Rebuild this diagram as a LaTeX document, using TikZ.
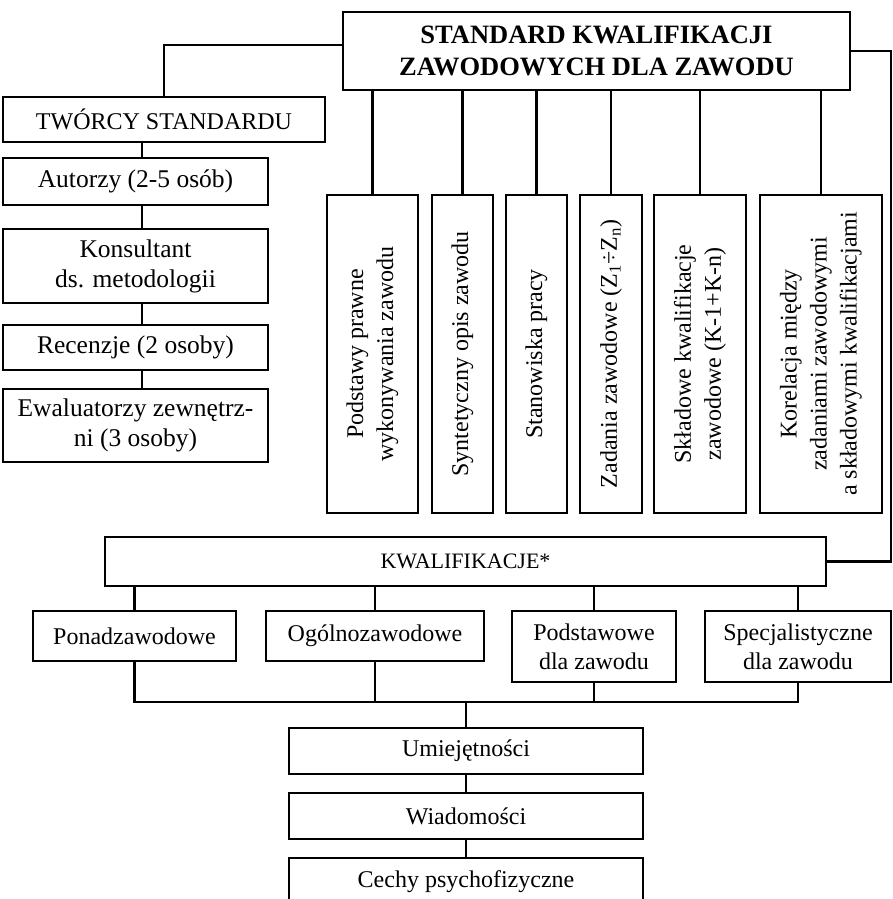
\documentclass[tikz,border=0pt]{standalone}
\usepackage{fontspec}
\setmainfont{Liberation Serif}
\begin{document}
\begin{tikzpicture}[x=1pt,y=-1pt,
  box/.style={draw, line width=2.2pt, fill=white, inner sep=0pt, align=center, font=\fontsize{24}{29}\selectfont},
  lbox/.style={box, minimum width=265pt, font=\fontsize{25.5}{30}\selectfont},
  vbox/.style={box, minimum height=318pt},
  ln/.style={line width=2.2pt},
  vtext/.style={rotate=90, align=center, inner sep=0pt, font=\fontsize{24}{30}\selectfont}]
\fill[white] (0,0) rectangle (892,899);
\useasboundingbox (0,0) rectangle (892,899);

% top
\node[box, font=\bfseries\fontsize{26.5}{32}\selectfont, minimum width=507pt, minimum height=78pt] (top) at (596.5,51) {STANDARD KWALIFIKACJI\\ZAWODOWYCH DLA ZAWODU};

% left column
\node[box, minimum width=322pt, minimum height=45pt] (tworcy) at (164,119.5) {TWÓRCY STANDARDU};
\node[lbox, minimum height=47pt] (autorzy) at (135.5,181.5) {Autorzy (2-5 osób)};
\node[lbox, minimum height=74pt] (konsult) at (135.5,266) {Konsultant\\ds. metodologii};
\node[lbox, minimum height=45pt] (recenzje) at (135.5,347.5) {Recenzje (2 osoby)};
\node[lbox, minimum height=73pt] (ewal) at (135.5,425.5) {Ewaluatorzy zewnętrz-\\ni (3 osoby)};

% vertical boxes
\node[vbox, minimum width=91pt] (v1) at (372.5,354) {};
\node[vtext] at (v1) {Podstawy prawne\\wykonywania zawodu};
\node[vbox, minimum width=61pt] (v2) at (462.5,354) {};
\node[vtext] at (v2) {Syntetyczny opis zawodu};
\node[vbox, minimum width=61pt] (v3) at (536.5,354) {};
\node[vtext] at (v3) {Stanowiska pracy};
\node[vbox, minimum width=62pt] (v4) at (611,354) {};
\node[vtext] at (v4) {Zadania zawodowe (Z\textsubscript{1}÷Z\textsubscript{n})};
\node[vbox, minimum width=92pt] (v5) at (700,354) {};
\node[vtext] at (v5) {Składowe kwalifikacje\\zawodowe (K-1+K-n)};
\node[vbox, minimum width=122pt] (v6) at (821,354) {};
\node[vtext] at (v6) {Korelacja między\\zadaniami zawodowymi\\a składowymi kwalifikacjami};

% kwalifikacje
\node[box, font=\fontsize{22}{26}\selectfont, minimum width=721pt, minimum height=49pt] (kwal) at (465.5,561.5) {KWALIFIKACJE*};
\node[box, minimum width=203pt, minimum height=50pt] (ponad) at (134.5,636) {Ponadzawodowe};
\node[box, minimum width=218pt, minimum height=50pt] (ogol) at (375,636) {Ogólnozawodowe};
\node[box, minimum width=164pt, minimum height=71pt] (podst) at (594,646.5) {Podstawowe\\dla zawodu};
\node[box, minimum width=186pt, minimum height=71pt] (spec) at (798,646.5) {Specjalistyczne\\dla zawodu};

% bottom column
\node[box, minimum width=354pt, minimum height=46pt] (umiej) at (466,751) {Umiejętności};
\node[box, minimum width=354pt, minimum height=46pt] (wiad) at (466,816) {Wiadomości};
\node[box, minimum width=354pt, minimum height=47pt] (cechy) at (466,881.5) {Cechy psychofizyczne};

% helper coordinates
\coordinate (redge) at (891,0);
\coordinate (lcol) at (142,0);
\coordinate (bus) at (466,702);

% connectors
\draw[ln] ([yshift=6pt]top.west) -| (tworcy.north);
\draw[ln] (top.east) -| (redge |- kwal.east) -- (kwal.east);
\draw[ln] (tworcy.south -| lcol) -- (autorzy.north -| lcol);
\draw[ln] (autorzy.south -| lcol) -- (konsult.north -| lcol);
\draw[ln] (konsult.south -| lcol) -- (recenzje.north -| lcol);
\draw[ln] (recenzje.south -| lcol) -- (ewal.north -| lcol);
\foreach \v in {v1,v2,v3,v4,v5,v6}
  \draw[ln] (\v.north) -- (\v.north |- top.south);
\foreach \n in {ponad,ogol,podst,spec}
  \draw[ln] (\n.north) -- (\n.north |- kwal.south);
\draw[ln] (ponad.south) -- (ponad.south |- bus) -- (spec.south |- bus) -- (spec.south);
\draw[ln] (ogol.south) -- (ogol.south |- bus);
\draw[ln] (podst.south) -- (podst.south |- bus);
\draw[ln] (bus) -- (umiej.north);
\draw[ln] (umiej.south) -- (wiad.north);
\draw[ln] (wiad.south) -- (cechy.north);
\end{tikzpicture}
\end{document}
